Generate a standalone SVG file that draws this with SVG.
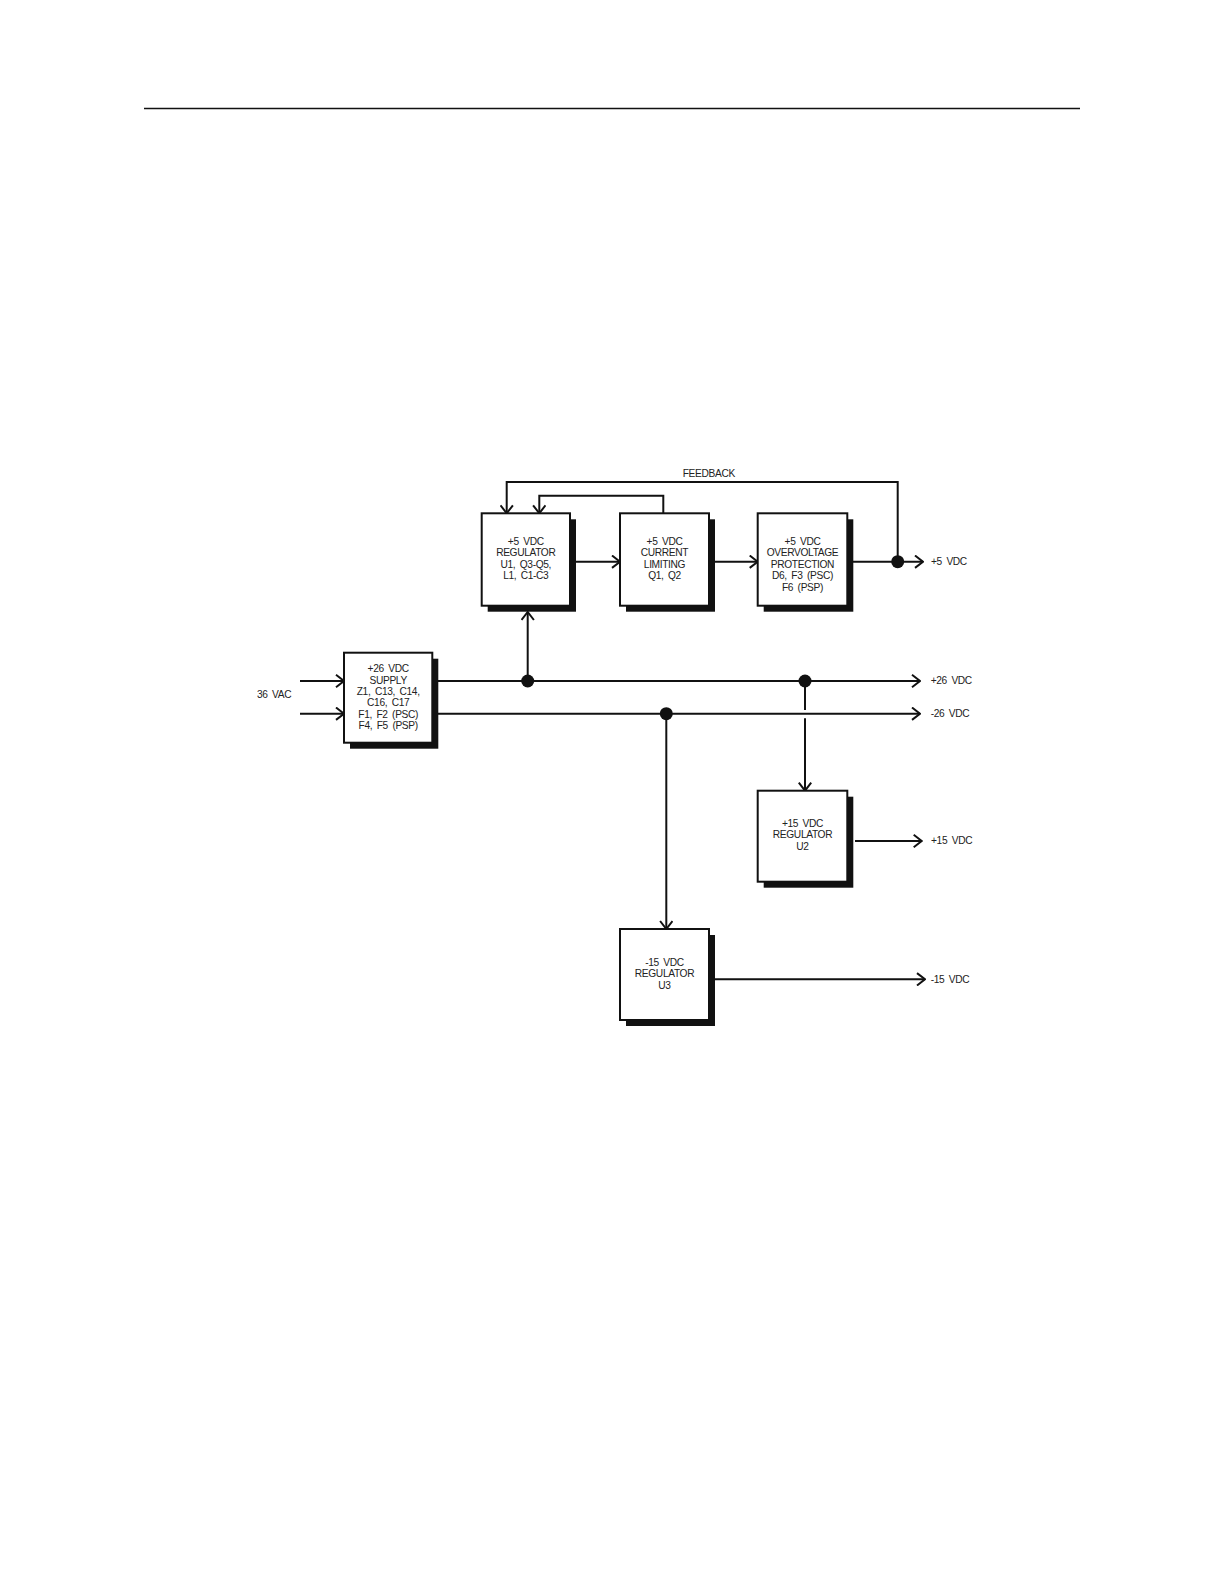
<svg xmlns="http://www.w3.org/2000/svg" width="1224" height="1584" viewBox="0 0 1224 1584">
<style>
  .bg{fill:#fff}
  .box{fill:#fff;stroke:#111;stroke-width:2}
  .sh{fill:#111}
  .ln{fill:none;stroke:#111;stroke-width:2}
  .arr{fill:none;stroke:#111;stroke-width:2;marker-end:url(#chev)}
  .dot{fill:#111}
  text{font-family:"Liberation Sans",Arial,sans-serif;font-size:10.2px;fill:#222;word-spacing:2px;letter-spacing:-0.35px}
  .c{text-anchor:middle}
</style>
<defs>
  <marker id="chev" viewBox="0 0 10 14" refX="9" refY="7" markerWidth="10" markerHeight="14" markerUnits="userSpaceOnUse" orient="auto">
    <path d="M1,0.8 L9,7 L1,13.2" fill="none" stroke="#111" stroke-width="2"/>
  </marker>
</defs>
<rect class="bg" x="0" y="0" width="1224" height="1584"/>
<line x1="144" y1="108.5" x2="1080" y2="108.5" stroke="#111" stroke-width="1.3"/>

<g id="connectors">
  <polyline class="arr" points="897.7,561.7 897.7,482 506.7,482 506.7,513.3"/>
  <polyline class="arr" points="663.3,513.3 663.3,495.7 539.3,495.7 539.3,513.3"/>
  <line class="arr" x1="575" y1="561.7" x2="620" y2="561.7"/>
  <line class="arr" x1="714" y1="561.7" x2="757.7" y2="561.7"/>
  <line class="arr" x1="852" y1="561.7" x2="923" y2="561.7"/>
  <line class="arr" x1="300" y1="681" x2="344" y2="681"/>
  <line class="arr" x1="300" y1="713.7" x2="344" y2="713.7"/>
  <line class="arr" x1="437.7" y1="681" x2="920" y2="681"/>
  <line class="arr" x1="437.7" y1="713.7" x2="920" y2="713.7"/>
  <line class="arr" x1="527.7" y1="681" x2="527.7" y2="612"/>
  <line class="ln" x1="805" y1="681" x2="805" y2="710"/>
  <line class="arr" x1="805" y1="718.3" x2="805" y2="790.7"/>
  <line class="arr" x1="666.3" y1="713.7" x2="666.3" y2="929"/>
  <line class="arr" x1="855" y1="841" x2="921.7" y2="841"/>
  <line class="arr" x1="714" y1="979.3" x2="925" y2="979.3"/>
  <circle class="dot" cx="897.7" cy="561.7" r="6.5"/>
  <circle class="dot" cx="527.7" cy="681" r="6.5"/>
  <circle class="dot" cx="805" cy="681" r="6.5"/>
  <circle class="dot" cx="666.3" cy="713.7" r="6.5"/>
</g>

<g id="reg5">
  <rect class="sh" x="487.7" y="519.3" width="88.3" height="92.4"/>
  <rect class="box" x="481.7" y="513.3" width="88.3" height="92.4"/>
  <text class="c" x="525.8" y="544.5">+5 VDC</text>
  <text class="c" x="525.8" y="556">REGULATOR</text>
  <text class="c" x="525.8" y="567.5">U1, Q3-Q5,</text>
  <text class="c" x="525.8" y="579">L1, C1-C3</text>
</g>

<g id="curlim">
  <rect class="sh" x="626" y="519.3" width="89" height="92.4"/>
  <rect class="box" x="620" y="513.3" width="89" height="92.4"/>
  <text class="c" x="664.5" y="544.5">+5 VDC</text>
  <text class="c" x="664.5" y="556">CURRENT</text>
  <text class="c" x="664.5" y="567.5">LIMITING</text>
  <text class="c" x="664.5" y="579">Q1, Q2</text>
</g>

<g id="ovp">
  <rect class="sh" x="763.7" y="519.3" width="89.6" height="92.4"/>
  <rect class="box" x="757.7" y="513.3" width="89.6" height="92.4"/>
  <text class="c" x="802.5" y="544.5">+5 VDC</text>
  <text class="c" x="802.5" y="556">OVERVOLTAGE</text>
  <text class="c" x="802.5" y="567.5">PROTECTION</text>
  <text class="c" x="802.5" y="579">D6, F3 (PSC)</text>
  <text class="c" x="802.5" y="590.5">F6 (PSP)</text>
</g>

<g id="supply26">
  <rect class="sh" x="350" y="658.7" width="88.3" height="90"/>
  <rect class="box" x="344" y="652.7" width="88.3" height="90"/>
  <text class="c" x="388.2" y="672.3">+26 VDC</text>
  <text class="c" x="388.2" y="683.7">SUPPLY</text>
  <text class="c" x="388.2" y="695">Z1, C13, C14,</text>
  <text class="c" x="388.2" y="706.3">C16, C17</text>
  <text class="c" x="388.2" y="717.7">F1, F2 (PSC)</text>
  <text class="c" x="388.2" y="729">F4, F5 (PSP)</text>
</g>

<g id="reg15p">
  <rect class="sh" x="763.7" y="796.7" width="89.6" height="91"/>
  <rect class="box" x="757.7" y="790.7" width="89.6" height="91"/>
  <text class="c" x="802.5" y="826.7">+15 VDC</text>
  <text class="c" x="802.5" y="838.3">REGULATOR</text>
  <text class="c" x="802.5" y="850">U2</text>
</g>

<g id="reg15n">
  <rect class="sh" x="626" y="935" width="89" height="91"/>
  <rect class="box" x="620" y="929" width="89" height="91"/>
  <text class="c" x="664.5" y="966">-15 VDC</text>
  <text class="c" x="664.5" y="977.3">REGULATOR</text>
  <text class="c" x="664.5" y="988.7">U3</text>
</g>

<g id="labels">
  <text class="c" x="708.8" y="477">FEEDBACK</text>
  <text x="931" y="565">+5 VDC</text>
  <text x="930.7" y="684.3">+26 VDC</text>
  <text x="930.7" y="717">-26 VDC</text>
  <text x="931" y="844.3">+15 VDC</text>
  <text x="930.7" y="983">-15 VDC</text>
  <text x="257" y="698.3">36 VAC</text>
</g>
</svg>
